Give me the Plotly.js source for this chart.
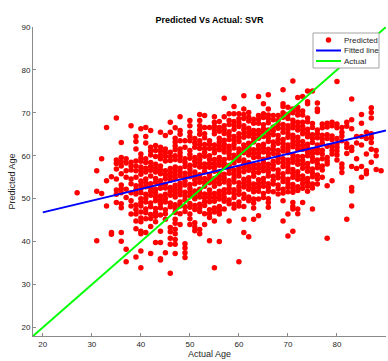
<!DOCTYPE html>
<html>
<head>
<meta charset="utf-8">
<script src="https://cdn.plot.ly/plotly-3.0.1.min.js"></script>
<style>
  html, body { margin: 0; padding: 0; background: #ffffff; }
  #chart { width: 388px; height: 361px; }
</style>
</head>
<body>
<div id="chart"></div>
<script>
// SVR age model on the test set.
// Each row: the actual age first, then the predicted ages of the subjects of that age.
const cols20s = [
  [27, 51.4]
];
const cols30s = [
  [31, 56.5, 51.7, 40.2],
  [32, 59.3, 51.2],
  [33, 66.6, 54.2, 48.3],
  [34, 55.1, 42.1, 41.7],
  [35, 68.8, 59.0, 58.2, 56.9, 54.6, 52.0, 51.0, 49.1],
  [36, 63.1, 59.6, 58.6, 57.6, 55.8, 53.2, 52.3, 51.4, 48.8, 47.9, 42.1, 40.1],
  [37, 59.3, 58.3, 56.5, 55.0, 52.2, 50.3, 38.2, 35.3],
  [38, 67.0, 58.5, 57.6, 56.7, 54.6, 53.5, 51.4, 49.5, 48.3, 46.4],
  [39, 64.5, 63.3, 61.6, 58.8, 57.6, 56.5, 55.0, 53.0, 52.0, 51.1, 48.5, 47.5, 46.4, 44.8, 43.0, 36.4]
];
const cols40s = [
  [40, 66.3, 60.4, 59.5, 58.7, 57.4, 56.6, 55.7, 54.1, 53.2, 52.3, 51.4, 50.0, 49.1, 48.3, 46.9, 45.5, 44.6, 42.4, 41.8, 37.8, 33.9],
  [41, 66.6, 64.5, 63.0, 59.3, 58.4, 57.1, 56.2, 54.6, 53.7, 52.8, 51.0, 50.1, 49.2, 47.6, 46.7, 45.3, 42.1],
  [42, 65.9, 62.0, 61.1, 60.2, 58.4, 57.5, 56.6, 55.3, 53.5, 52.6, 51.7, 50.8, 49.0, 48.1, 46.3, 45.4, 43.5, 37.2],
  [43, 62.4, 61.2, 59.8, 58.0, 57.1, 56.2, 54.7, 53.8, 52.2, 51.3, 50.4, 49.5, 47.7, 46.8, 45.9, 44.6, 39.8],
  [44, 65.5, 62.0, 61.1, 60.2, 59.3, 57.6, 56.7, 55.8, 54.2, 53.3, 52.4, 50.6, 49.7, 48.8, 47.9, 46.2, 42.4, 39.8, 36.0, 35.7],
  [45, 64.7, 61.6, 60.7, 59.8, 58.8, 56.5, 55.6, 54.7, 53.4, 52.5, 51.0, 50.1, 49.2, 47.4, 46.5, 45.2, 37.4],
  [46, 67.8, 65.5, 60.8, 59.8, 58.9, 57.0, 56.1, 55.2, 54.3, 52.6, 51.7, 50.8, 49.0, 48.1, 43.3, 42.3, 40.8, 39.4, 32.6],
  [47, 66.5, 64.1, 63.2, 62.3, 61.4, 60.0, 59.1, 57.4, 56.5, 55.6, 54.7, 53.1, 52.2, 51.3, 50.4, 48.6, 47.7, 46.8, 45.2, 44.3, 42.9, 41.8, 40.5, 39.4, 37.2],
  [48, 69.1, 65.9, 65.0, 63.5, 61.6, 60.7, 59.8, 58.9, 57.1, 56.2, 55.3, 53.6, 52.7, 51.8, 50.9, 49.2, 48.3, 46.5, 44.0],
  [49, 63.5, 62.0, 59.3, 58.4, 57.5, 55.9, 55.0, 54.1, 53.2, 51.5, 50.6, 49.7, 48.1, 47.0, 39.5, 38.5, 37.4, 36.3]
];
const cols50s = [
  [50, 68.2, 67.0, 65.5, 64.5, 63.5, 61.2, 60.3, 59.4, 57.8, 56.9, 56.0, 55.1, 53.3, 52.4, 51.5, 50.6, 48.9, 48.0, 46.4, 45.3, 44.0],
  [51, 64.0, 63.0, 62.0, 59.6, 58.7, 57.8, 56.2, 55.3, 54.4, 53.5, 51.8, 50.9, 50.0, 48.4, 47.5, 44.4, 43.4, 42.5],
  [52, 69.6, 68.2, 67.0, 66.0, 65.0, 63.5, 62.6, 61.7, 60.1, 59.2, 58.3, 57.4, 55.6, 54.7, 53.8, 52.2, 51.3, 50.4, 48.7, 47.8, 47.0, 42.8, 41.8],
  [53, 69.4, 66.6, 65.1, 64.2, 62.6, 61.7, 60.8, 59.9, 58.1, 57.2, 56.3, 54.7, 53.8, 52.9, 51.1, 50.2, 49.3, 48.4, 46.5, 44.0],
  [54, 66.6, 63.5, 62.6, 61.7, 60.0, 59.1, 58.2, 57.3, 55.5, 54.6, 53.7, 52.0, 51.1, 50.2, 49.3, 47.4, 46.5, 45.6, 40.2],
  [55, 69.1, 67.8, 66.9, 66.0, 65.1, 62.5, 61.6, 60.7, 59.1, 58.2, 57.3, 56.4, 54.7, 53.8, 52.9, 51.2, 50.3, 49.4, 47.8, 46.9, 44.8, 33.9],
  [56, 68.0, 66.6, 65.7, 64.1, 63.2, 62.3, 61.4, 59.6, 58.7, 57.8, 56.2, 55.3, 54.4, 53.5, 51.7, 50.8, 49.9, 48.2, 47.3, 46.4, 40.0],
  [57, 73.4, 69.1, 67.0, 66.1, 65.2, 63.6, 62.7, 61.8, 60.9, 59.1, 58.2, 57.3, 55.7, 54.8, 53.9, 52.1, 51.2, 50.3, 49.4, 47.6],
  [58, 69.8, 68.2, 67.3, 65.6, 64.7, 63.8, 62.2, 61.3, 60.4, 59.5, 57.7, 56.8, 55.9, 54.2, 53.3, 52.4, 51.5, 49.7, 48.8, 44.8],
  [59, 71.5, 69.8, 68.0, 67.1, 66.2, 64.5, 63.6, 62.7, 61.8, 60.1, 59.2, 58.3, 56.6, 55.7, 54.8, 53.9, 52.1, 51.2, 50.3, 48.7, 47.8]
];
const cols60s = [
  [60, 69.8, 68.6, 67.7, 66.8, 65.1, 64.2, 63.3, 61.6, 60.7, 59.8, 58.9, 57.1, 56.2, 55.3, 53.7, 52.8, 51.9, 51.0, 49.2, 48.3, 35.3],
  [61, 74.0, 70.9, 69.6, 68.7, 67.0, 66.1, 65.2, 64.3, 62.5, 61.6, 60.7, 59.0, 58.1, 57.2, 56.3, 54.5, 53.6, 52.7, 51.0, 50.1, 48.2, 45.2, 42.1],
  [62, 70.1, 69.0, 68.1, 66.4, 65.5, 64.6, 62.9, 62.0, 61.1, 60.2, 58.4, 57.5, 56.6, 54.9, 54.0, 53.1, 52.2, 50.4, 49.5, 41.1],
  [63, 68.5, 67.6, 65.9, 65.0, 64.1, 63.2, 61.4, 60.5, 59.6, 57.9, 57.0, 56.1, 55.2, 53.4, 52.5, 51.6, 49.9, 49.0, 47.8, 45.2],
  [64, 73.8, 69.4, 68.5, 67.6, 65.9, 65.0, 64.1, 62.4, 61.5, 60.6, 59.7, 57.9, 57.0, 56.1, 54.4, 53.5, 52.6, 51.7, 49.9, 46.0],
  [65, 72.1, 69.8, 68.9, 67.2, 66.3, 65.4, 64.5, 62.7, 61.8, 60.9, 59.2, 58.3, 57.4, 56.5, 54.7, 53.8, 52.9, 51.2, 50.3],
  [66, 74.2, 70.9, 69.5, 68.6, 67.7, 66.0, 65.1, 64.2, 63.3, 61.5, 60.6, 59.7, 58.0, 57.1, 56.2, 55.3, 53.5, 52.6, 51.7, 50.0, 49.1, 48.0],
  [67, 69.4, 68.4, 66.7, 65.8, 64.9, 63.2, 62.3, 61.4, 60.5, 58.7, 57.8, 56.9, 55.2, 54.3, 53.4, 51.6],
  [68, 69.4, 68.2, 67.3, 66.4, 64.7, 63.8, 62.9, 61.2, 60.3, 59.4, 58.5, 56.7, 55.8, 54.9, 53.2, 52.3, 51.1],
  [69, 75.4, 72.1, 71.5, 70.0, 69.0, 67.3, 66.4, 65.5, 63.8, 62.9, 62.0, 61.1, 59.3, 58.4, 57.5, 55.8, 54.9, 54.0, 52.2, 51.3, 49.5, 44.8]
];
const cols70s = [
  [70, 71.3, 69.6, 68.7, 67.0, 66.1, 65.2, 64.3, 62.5, 61.6, 60.7, 59.0, 58.1, 57.2, 56.3, 54.5, 53.6, 52.7, 51.6, 46.4, 41.3],
  [71, 77.4, 70.9, 70.0, 68.3, 67.4, 66.5, 64.8, 63.9, 63.0, 62.1, 60.3, 59.4, 58.5, 56.8, 55.9, 55.0, 53.3, 52.4, 51.5, 49.1, 48.2, 47.6, 42.4],
  [72, 73.6, 71.3, 70.4, 69.5, 67.8, 66.9, 66.0, 64.3, 63.4, 62.5, 61.6, 59.8, 58.9, 58.0, 56.3, 55.4, 54.5, 52.8, 51.9, 47.6, 46.5],
  [73, 73.8, 70.4, 69.5, 67.8, 66.9, 66.0, 65.1, 63.3, 62.4, 61.5, 59.8, 58.9, 58.0, 57.1, 55.3, 54.4, 53.5, 52.4, 49.1],
  [74, 75.1, 72.6, 72.1, 68.8, 67.9, 66.2, 65.3, 64.4, 62.7, 61.8, 60.9, 60.0, 58.2, 57.3, 56.4, 54.7, 53.8, 52.9, 51.7],
  [75, 75.1, 67.5, 66.6, 64.9, 64.0, 63.1, 61.4, 60.5, 59.6, 58.7, 56.9, 56.0, 55.1, 53.4, 52.5, 47.6],
  [76, 72.3, 70.9, 70.3, 66.0, 65.1, 64.2, 62.5, 61.6, 60.7, 59.0, 58.1, 57.2, 55.5, 54.6, 53.4],
  [77, 67.4, 66.5, 64.8, 63.9, 63.0, 61.3, 60.4, 59.3, 57.6, 56.7, 55.0],
  [78, 67.6, 66.7, 64.9, 64.0, 62.2, 59.6, 58.8, 58.1, 53.0, 40.8],
  [79, 67.8, 67.0, 64.6, 63.7, 62.2, 61.3, 60.4, 54.2]
];
const cols80s = [
  [80, 77.3, 67.4, 66.5, 64.0, 62.8, 62.0, 61.1, 60.2, 59.0],
  [81, 66.6, 65.5, 64.6, 63.5, 58.1, 57.2, 56.1],
  [82, 67.8, 66.9, 62.8, 61.9, 60.5, 45.2],
  [83, 73.2, 68.4, 66.3, 62.0, 61.2, 57.5, 52.6, 51.8, 48.3],
  [84, 64.5, 63.0, 59.3, 57.0],
  [85, 69.6, 67.6, 64.5, 62.5, 57.5, 55.0],
  [86, 65.5, 64.0, 60.4, 56.5, 55.8],
  [87, 71.2, 70.1, 68.8, 65.1, 64.2, 63.1, 61.5, 58.5],
  [88, 61.2, 60.0, 56.8],
  [89, 56.5]
];

// Least-squares fit of predicted on actual age, and the identity line.
const fitAge = [20, 90];
const fitPred = [46.8, 65.9];
const idealAge = [18, 90];

const seriesNames = ['Predicted', 'Fitted line', 'Actual'];
const seriesColors = ['#ff0000', '#0000ff', '#00ff00'];

const titleText = 'Predicted Vs Actual: SVR';
const xTitle = 'Actual Age';
const yTitle = 'Predicted Age';
const ticks = [20, 30, 40, 50, 60, 70, 80, 90];

// Flatten the per-age rows into x/y pairs.
const actual = [];
const predicted = [];
[cols20s, cols30s, cols40s, cols50s, cols60s, cols70s, cols80s].forEach(group => {
  group.forEach(row => {
    for (let i = 1; i < row.length; i++) {
      actual.push(row[0]);
      predicted.push(row[i]);
    }
  });
});

const W = 388, H = 361;
const M = { l: 33, r: 2, t: 27, b: 25 };
const PW = W - M.l - M.r, PH = H - M.t - M.b;
const px = x => (x - M.l) / PW;          // pixel -> paper x
const py = y => (H - M.b - y) / PH;      // pixel -> paper y

const FONT = '"Liberation Sans", Arial, Helvetica, sans-serif';
const AXIS_GREY = '#8a8a8a';
const TEXT = '#262626';

const traces = [
  {
    x: actual, y: predicted, type: 'scatter', mode: 'markers', name: seriesNames[0],
    marker: { color: seriesColors[0], size: 5.5, line: { width: 0 } },
    showlegend: false, hoverinfo: 'skip'
  },
  {
    x: fitAge, y: fitPred, type: 'scatter', mode: 'lines', name: seriesNames[1],
    line: { color: seriesColors[1], width: 2 }, showlegend: false, hoverinfo: 'skip'
  },
  {
    x: idealAge, y: idealAge, type: 'scatter', mode: 'lines', name: seriesNames[2],
    line: { color: seriesColors[2], width: 2 }, showlegend: false, hoverinfo: 'skip'
  }
];

// Legend box drawn in pixel positions (compact, MATLAB style).
const box = { left: 313, right: 379, top: 33, bottom: 68 };
const rowY = [40, 50.5, 61];
const sampleX0 = 316, sampleX1 = 341, textX = 342.5, markerX = 328.5;

const shapes = [
  {
    type: 'rect', xref: 'paper', yref: 'paper',
    x0: px(box.left), x1: px(box.right), y0: py(box.bottom), y1: py(box.top),
    line: { color: '#a3a3a3', width: 1 }, fillcolor: '#ffffff', layer: 'above'
  },
  {
    type: 'circle', xref: 'paper', yref: 'paper',
    x0: px(markerX - 2.75), x1: px(markerX + 2.75), y0: py(rowY[0] + 2.75), y1: py(rowY[0] - 2.75),
    line: { width: 0 }, fillcolor: seriesColors[0], layer: 'above'
  }
];
[1, 2].forEach(i => {
  shapes.push({
    type: 'line', xref: 'paper', yref: 'paper',
    x0: px(sampleX0), x1: px(sampleX1), y0: py(rowY[i]), y1: py(rowY[i]),
    line: { color: seriesColors[i], width: 2 }, layer: 'above'
  });
});

const annotations = seriesNames.map((name, i) => ({
  text: name, xref: 'paper', yref: 'paper', x: px(textX), y: py(rowY[i]),
  xanchor: 'left', yanchor: 'middle', showarrow: false, borderpad: 0,
  font: { family: FONT, size: 8, color: TEXT }
}));

const axisCommon = {
  range: [18, 90], tickvals: ticks, ticktext: ticks.map(String),
  ticks: 'inside', ticklen: 3, tickwidth: 1, tickcolor: AXIS_GREY,
  showline: true, linecolor: AXIS_GREY, linewidth: 1, mirror: false,
  showgrid: false, zeroline: false, automargin: false, fixedrange: true,
  tickfont: { family: FONT, size: 8, color: TEXT }
};

const layout = {
  width: W, height: H, margin: M,
  paper_bgcolor: '#ffffff', plot_bgcolor: '#ffffff',
  showlegend: false,
  title: {
    text: titleText, xref: 'paper', x: 0.5, xanchor: 'center',
    yref: 'container', y: 1 - 20 / H, yanchor: 'middle',
    font: { family: FONT, size: 9, color: '#000000', weight: 'bold' }
  },
  xaxis: Object.assign({}, axisCommon, {
    title: { text: xTitle, standoff: 1, font: { family: FONT, size: 9, color: TEXT } }
  }),
  yaxis: Object.assign({}, axisCommon, {
    title: { text: yTitle, standoff: 4, font: { family: FONT, size: 9, color: TEXT } }
  }),
  shapes: shapes,
  annotations: annotations
};

Plotly.newPlot('chart', traces, layout, { displayModeBar: false, staticPlot: true });
</script>
</body>
</html>
